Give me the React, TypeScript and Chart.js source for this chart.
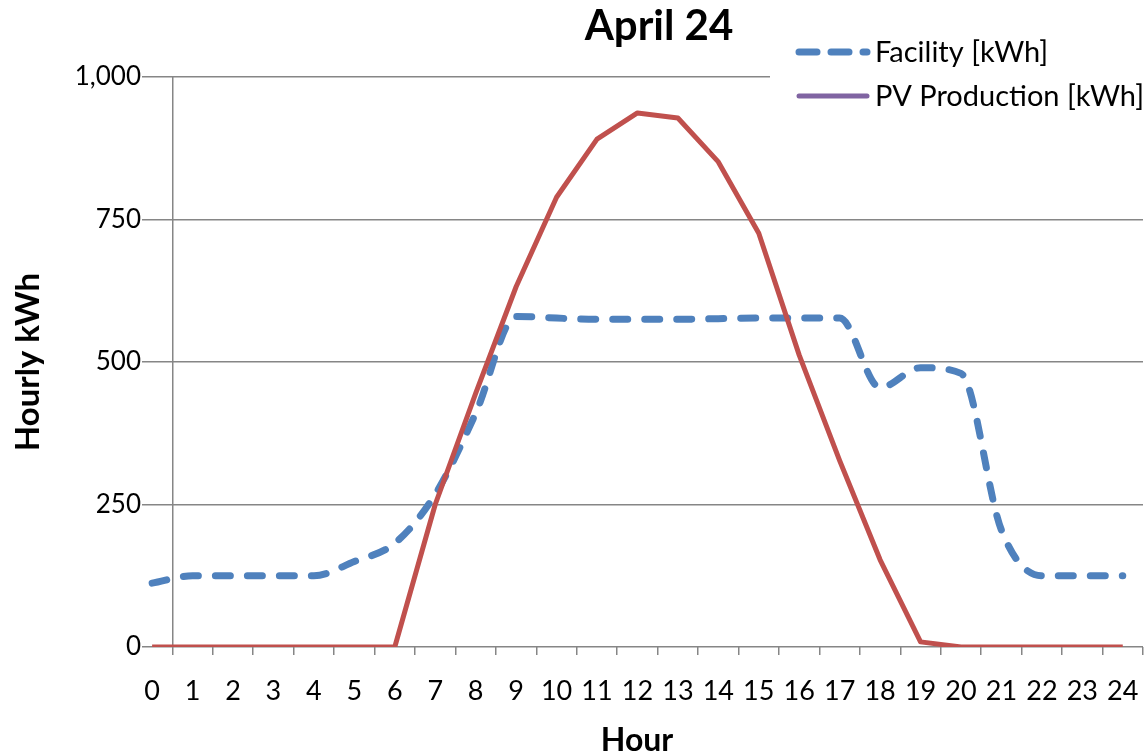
import React, { useEffect, useRef } from "react";
import { Chart, registerables } from "chart.js";

Chart.register(...registerables);

const titleText = "April 24";
const xTitle = "Hour";
const yTitle = "Hourly kWh";
const hours = [0, 1, 2, 3, 4, 5, 6, 7, 8, 9, 10, 11, 12, 13, 14, 15, 16, 17, 18, 19, 20, 21, 22, 23, 24];
const facility = [112, 125, 125, 125, 125, 150, 182, 268, 410, 580, 577, 575, 575, 575, 576, 577, 577, 577, 455, 490, 480, 205, 125, 125, 125];
const pvProduction = [0, 0, 0, 0, 0, 0, 0, 250, 445, 632, 789, 891, 937, 928, 851, 726, 512, 327, 153, 9, 0, 0, 0, 0, 0];
const yTickValues = [0, 250, 500, 750, 1000];
const seriesLabels = ["Facility [kWh]", "PV Production [kWh]"];
const seriesColors = ["#4F81BD", "#C0504D"];
const legendColors = ["#4F81BD", "#8064A2"];

const FONT = "Lato, 'Open Sans', sans-serif";
const GRID = "#868686";

export default function App() {
  const ref = useRef<HTMLCanvasElement | null>(null);

  useEffect(() => {
    document.body.style.margin = "0";
    const canvas = ref.current;
    if (!canvas) return;

    const overlay = {
      id: "overlay",
      afterDraw(chart: any) {
        const ctx = chart.ctx as CanvasRenderingContext2D;
        const area = chart.chartArea;
        ctx.save();
        ctx.fillStyle = "#000";
        // title
        ctx.font = `bold 42px ${FONT}`;
        ctx.textAlign = "center";
        ctx.textBaseline = "alphabetic";
        ctx.fillText(titleText, 659, 40);
        // x title
        ctx.font = `bold 32px ${FONT}`;
        ctx.fillText(xTitle, 637, 751);
        // y title
        ctx.save();
        ctx.font = `bold 33px ${FONT}`;
        ctx.translate(28, (area.top + area.bottom) / 2);
        ctx.rotate(-Math.PI / 2);
        ctx.textBaseline = "middle";
        ctx.fillText(yTitle, 0, 0);
        ctx.restore();
        // legend
        ctx.fillStyle = "#fff";
        ctx.fillRect(770, 30, 377, 88);
        ctx.lineCap = "round";
        const rows = [52, 96];
        seriesLabels.forEach((lab, i) => {
          const y = rows[i];
          ctx.strokeStyle = legendColors[i];
          if (i === 0) {
            ctx.lineWidth = 7;
            ctx.setLineDash([18, 14]);
          } else {
            ctx.lineWidth = 5;
            ctx.setLineDash([]);
          }
          ctx.beginPath();
          ctx.moveTo(799, y);
          ctx.lineTo(867, y);
          ctx.stroke();
          ctx.setLineDash([]);
          ctx.fillStyle = "#000";
          ctx.font = `29px ${FONT}`;
          ctx.textAlign = "left";
          ctx.textBaseline = "middle";
          ctx.fillText(lab, 875, y + 1);
        });
        ctx.restore();
      },
    };

    const chart = new Chart(canvas, {
      type: "line",
      data: {
        labels: hours,
        datasets: [
          {
            label: seriesLabels[0],
            data: hours.map((h, i) => ({ x: h, y: facility[i] })),
            borderColor: seriesColors[0],
            backgroundColor: seriesColors[0],
            borderWidth: 7,
            borderDash: [15, 17],
            borderCapStyle: "round",
            borderJoinStyle: "round",
            pointRadius: 0,
            cubicInterpolationMode: "monotone",
            order: 1,
          },
          {
            label: seriesLabels[1],
            data: hours.map((h, i) => ({ x: h, y: pvProduction[i] })),
            borderColor: seriesColors[1],
            backgroundColor: seriesColors[1],
            borderWidth: 5,
            borderJoinStyle: "round",
            pointRadius: 0,
            tension: 0,
            order: 0,
          },
        ],
      },
      options: {
        responsive: false,
        animation: false,
        layout: { padding: { top: 77, right: 4, left: 0, bottom: 0 } },
        plugins: {
          legend: { display: false },
          title: { display: false },
          tooltip: { enabled: false },
        },
        scales: {
          x: {
            type: "linear",
            min: -0.25,
            max: 24.5,
            afterBuildTicks(scale: any) {
              const t: any[] = [];
              for (let v = 0; v <= 24.5; v += 0.5) t.push({ value: v });
              scale.ticks = t;
            },
            afterFit(scale: any) {
              scale.height = 107;
              scale.paddingLeft = 0;
              scale.paddingRight = 0;
            },
            ticks: {
              autoSkip: false,
              maxRotation: 0,
              minRotation: 0,
              padding: 20,
              color: "#000",
              font: { family: FONT, size: 27 },
              callback: (v: any) => (Number.isInteger(Number(v)) ? String(v) : ""),
            },
            grid: {
              drawOnChartArea: true,
              lineWidth: 1.5,
              tickLength: 8,
              color: (c: any) => (c.tick && c.tick.value === 0.5 ? GRID : "rgba(0,0,0,0)"),
              tickColor: (c: any) => (c.tick && !Number.isInteger(c.tick.value) ? GRID : "rgba(0,0,0,0)"),
            },
            border: { display: false },
          },
          y: {
            min: 0,
            max: 1000,
            afterBuildTicks(scale: any) {
              scale.ticks = yTickValues.map((v) => ({ value: v }));
            },
            afterFit(scale: any) {
              scale.width = 142;
              scale.paddingTop = 0;
              scale.paddingBottom = 0;
            },
            ticks: {
              padding: 1,
              color: "#000",
              font: { family: FONT, size: 26 },
              callback: (v: any) => Number(v).toLocaleString("en-US"),
            },
            grid: {
              color: GRID,
              lineWidth: 1.5,
              drawTicks: false,
            },
            border: { display: false },
          },
        },
      },
      plugins: [overlay],
    });

    return () => chart.destroy();
  }, []);

  return <canvas ref={ref} width={1147} height={754} style={{ display: "block" }} />;
}
